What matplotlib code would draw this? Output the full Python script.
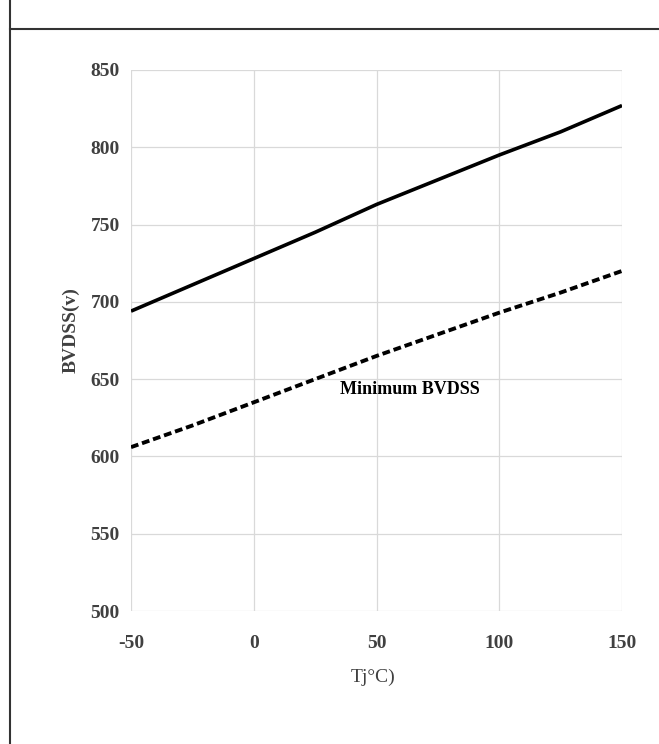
import matplotlib.pyplot as plt
from matplotlib.lines import Line2D

temp = [-50, -25, 0, 25, 50, 75, 100, 125, 150]
bvdss_typ = [694, 711, 728, 745, 763, 779, 795, 810, 827]
bvdss_min = [606, 620, 635, 650, 665, 679, 693, 706, 720]

x_ticks = [-50, 0, 50, 100, 150]
y_ticks = [500, 550, 600, 650, 700, 750, 800, 850]

plt.rcParams['font.family'] = ['Liberation Serif', 'DejaVu Serif']
plt.rcParams['axes.unicode_minus'] = False

fig = plt.figure(figsize=(6.59, 7.44), dpi=100)
ax = fig.add_axes([131 / 659, 1 - 611 / 744, (622 - 131) / 659, (611 - 70) / 744])

ax.plot(temp, bvdss_typ, color='black', lw=2.6, solid_capstyle='butt')
ax.plot(temp, bvdss_min, color='black', lw=2.8, dashes=(2.0, 1.0))

ax.set_xlim(-50, 150)
ax.set_ylim(500, 850)
ax.set_xticks(x_ticks)
ax.set_yticks(y_ticks)
ax.grid(True, color='#d9d9d9', lw=0.9)
ax.set_axisbelow(True)
for s in ax.spines.values():
    s.set_visible(False)
ax.tick_params(length=0, labelsize=14, labelcolor='#404040')
ax.tick_params(axis='x', pad=17)
ax.tick_params(axis='y', pad=8)
for lab in ax.get_xticklabels() + ax.get_yticklabels():
    lab.set_fontweight('bold')

ax.set_xlabel('Tj°C)', fontsize=14, color='#404040')
ax.xaxis.set_label_coords((373 - 131) / 491, -(669 - 611) / 541)
ax.set_ylabel('BVDSS(v)', fontsize=14, color='#404040', fontweight='bold')
ax.yaxis.set_label_coords((80 - 131) / 491, (611 - 330) / 541)

ax.text(63.5, 643, 'Minimum BVDSS', fontsize=13, fontweight='bold', ha='center', va='center')

fig.add_artist(Line2D([10 / 659, 10 / 659], [0, 1], color='#333333', lw=1.5, transform=fig.transFigure))
fig.add_artist(Line2D([10 / 659, 1], [1 - 29 / 744, 1 - 29 / 744], color='#333333', lw=1.5, transform=fig.transFigure))

fig.savefig('out.png', dpi=100)
